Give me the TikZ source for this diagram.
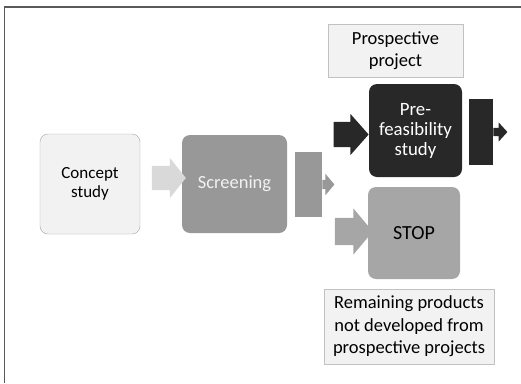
\documentclass[tikz,border=0pt]{standalone}
\usepackage{fontspec}
\setmainfont{Carlito}
\usepackage{tikz}
\usetikzlibrary{shapes.arrows, positioning}
\definecolor{paper}{HTML}{F2F2F2}
\definecolor{edge}{HTML}{A6A6A6}
\definecolor{pale}{HTML}{D9D9D9}
\definecolor{mid}{HTML}{989898}
\definecolor{stopgray}{HTML}{A6A6A6}
\definecolor{dark}{HTML}{282828}
\definecolor{frame}{HTML}{5A5A5A}

\begin{document}
\begin{tikzpicture}[
    x=1pt, y=-1pt,
    stage/.style={rectangle, rounded corners=8pt, align=center, inner sep=2pt},
    note/.style={rectangle, draw=edge!70, fill=paper, align=center, inner sep=2pt,
                 font=\fontsize{18.5}{22.4}\selectfont},
    bigarrow/.style={single arrow, draw=none, inner xsep=0pt, single arrow head indent=0pt},
    splitbar/.style={rectangle, draw=none, inner sep=0pt}
]
\useasboundingbox (0,0) rectangle (521,383);
\draw[frame, line width=1.5pt] (4.5,383) -- (4.5,7) -- (521,7);

% stages
\node (concept) [stage, draw=edge, fill=paper, minimum width=100pt, minimum height=100pt,
    font=\fontsize{17}{19}\selectfont] at (90,184) {Concept\\study};
\node (screen) [stage, fill=mid, text=paper, minimum width=105pt, minimum height=98pt,
    font=\fontsize{18.5}{22}\selectfont] at (234.5,184) {Screening};
\node (prefeas) [stage, fill=dark, text=white, minimum width=93pt, minimum height=93pt,
    font=\fontsize{18.8}{20}\selectfont] at (415.5,130.5) {Pre-\\feasibility\\study};
\node (stop) [stage, fill=stopgray, minimum width=92pt, minimum height=92pt,
    font=\fontsize{20}{22}\selectfont] at (414,233) {STOP};

% notes
\node (prosp) [note, minimum width=135pt, minimum height=53pt] at (395.5,50.5) {Prospective\\project};
\node (remain) [note, minimum width=170pt, minimum height=75pt] at (409,326.5)
    {Remaining products\\not developed from\\prospective projects};

% block arrows
\node (toscreen) [bigarrow, fill=pale, minimum height=34pt, minimum width=40pt,
    inner ysep=12pt, single arrow head extend=8pt, single arrow tip angle=103] at (164,178) {};
\node (toprefeas) [bigarrow, fill=dark, minimum height=35pt, minimum width=41pt,
    inner ysep=12.5pt, single arrow head extend=8pt, single arrow tip angle=97] at (345.5,134.5) {};
\node (tostop) [bigarrow, fill=stopgray, minimum height=38pt, minimum width=46pt,
    inner ysep=13.5pt, single arrow head extend=9.5pt, single arrow tip angle=100] at (348,231.5) {};

% split blocks
\node (split) [splitbar, fill=mid, minimum width=27pt, minimum height=65pt] at (308.5,184.5) {};
\node (splittip) [bigarrow, fill=mid, anchor=tail, minimum height=12pt, minimum width=21pt,
    inner ysep=4.5pt, single arrow head extend=6pt, single arrow tip angle=100] at (split.east) {};
\node (next) [splitbar, fill=dark, minimum width=24pt, minimum height=66pt] at (481,132) {};
\node (nexttip) [bigarrow, fill=dark, anchor=tail, minimum height=14pt, minimum width=19pt,
    inner ysep=4pt, single arrow head extend=5.5pt, single arrow tip angle=95] at (next.east) {};
\end{tikzpicture}
\end{document}
